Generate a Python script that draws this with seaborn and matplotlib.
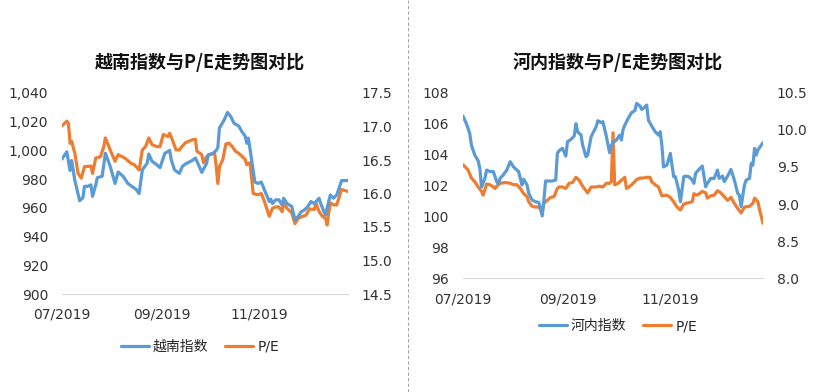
import pandas as pd
import seaborn as sns
import matplotlib.pyplot as plt
import matplotlib.dates as mdates
from matplotlib.ticker import StrMethodFormatter
from matplotlib.lines import Line2D

# ---- Vietnam index (left chart) ----
vn_idx_dates = ["07-01", "07-04", "07-06", "07-07", "07-09", "07-12", "07-14", "07-15", "07-17", "07-19",
                "07-20", "07-22", "07-23", "07-26", "07-28", "07-31", "08-03", "08-05", "08-08", "08-11",
                "08-14", "08-16", "08-18", "08-20", "08-23", "08-24", "08-26", "08-29", "08-31", "09-03",
                "09-06", "09-07", "09-09", "09-12", "09-14", "09-16", "09-20", "09-22", "09-24", "09-26",
                "09-29", "09-30", "10-03", "10-05", "10-06", "10-07", "10-10", "10-12", "10-14", "10-16",
                "10-19", "10-21", "10-23", "10-24", "10-25", "10-27", "10-29", "10-31", "11-02", "11-04",
                "11-07", "11-08", "11-09", "11-11", "11-13", "11-15", "11-16", "11-18", "11-21", "11-23",
                "11-25", "11-27", "11-29", "12-01", "12-03", "12-05", "12-08", "12-09", "12-11", "12-12",
                "12-13", "12-15", "12-17", "12-19", "12-22", "12-26"]
vn_idx = [994, 999, 986, 993, 979, 965, 967, 975, 975, 976,
          968, 976, 981, 982, 998, 989, 977, 985, 982, 977,
          974.5, 973, 970, 986.5, 991, 997.5, 992.5, 990, 988, 998,
          1000, 993.5, 986.5, 984, 989, 990.7, 993, 994.7, 990, 984.7,
          991, 997, 998, 1000, 1002, 1015.6, 1021.4, 1026.5, 1023.7, 1019,
          1017, 1013, 1010, 1005, 1008.6, 993.5, 978, 977, 978, 972.5,
          964.4, 966, 963, 965.6, 965.6, 962, 966.7, 963, 961, 951.6,
          954, 957.4, 958.6, 961, 964.4, 963, 966.7, 963, 957.4, 955,
          959.8, 969, 966.7, 969, 979, 979]

vn_pe_dates = ["07-01", "07-04", "07-05", "07-06", "07-07", "07-09", "07-11", "07-13", "07-15", "07-19",
               "07-20", "07-22", "07-25", "07-27", "07-28", "07-31", "08-03", "08-05", "08-09", "08-13",
               "08-15", "08-18", "08-20", "08-22", "08-24", "08-26", "08-29", "08-31", "09-02", "09-05",
               "09-06", "09-08", "09-10", "09-12", "09-14", "09-16", "09-20", "09-22", "09-23", "09-26",
               "09-27", "09-29", "10-01", "10-04", "10-05", "10-06", "10-07", "10-09", "10-11", "10-13",
               "10-15", "10-17", "10-19", "10-23", "10-24", "10-26", "10-28", "10-31", "11-02", "11-04",
               "11-07", "11-09", "11-11", "11-13", "11-15", "11-16", "11-18", "11-21", "11-23", "11-25",
               "11-28", "11-30", "12-02", "12-05", "12-06", "12-08", "12-10", "12-12", "12-13", "12-14",
               "12-15", "12-17", "12-19", "12-22", "12-26"]
vn_pe = [17.01, 17.08, 17.05, 16.75, 16.78, 16.6, 16.3, 16.23, 16.4, 16.41,
         16.3, 16.53, 16.55, 16.7, 16.83, 16.65, 16.48, 16.58, 16.53, 16.45,
         16.43, 16.35, 16.65, 16.7, 16.83, 16.73, 16.7, 16.7, 16.88, 16.85,
         16.9, 16.78, 16.65, 16.65, 16.71, 16.76, 16.8, 16.81, 16.63, 16.58,
         16.46, 16.55, 16.58, 16.6, 16.4, 16.15, 16.4, 16.5, 16.74, 16.75,
         16.7, 16.63, 16.6, 16.51, 16.43, 16.46, 16.0, 15.98, 16.0, 15.88,
         15.66, 15.78, 15.8, 15.8, 15.73, 15.86, 15.78, 15.71, 15.55, 15.63,
         15.66, 15.68, 15.77, 15.76, 15.86, 15.73, 15.66, 15.63, 15.53, 15.71,
         15.86, 15.83, 15.83, 16.06, 16.03]

# ---- Hanoi index (right chart) ----
hn_idx_dates = ["07-01", "07-03", "07-05", "07-06", "07-08", "07-10", "07-11", "07-12", "07-14", "07-15",
                "07-17", "07-19", "07-21", "07-22", "07-23", "07-25", "07-27", "07-29", "07-31", "08-02",
                "08-03", "08-05", "08-06", "08-08", "08-09", "08-11", "08-13", "08-15", "08-17", "08-18",
                "08-19", "08-21", "08-23", "08-25", "08-26", "08-27", "08-29", "08-31", "09-01", "09-03",
                "09-05", "09-06", "09-07", "09-09", "09-10", "09-12", "09-13", "09-15", "09-16", "09-18",
                "09-19", "09-21", "09-22", "09-24", "09-26", "09-27", "09-28", "09-30", "10-02", "10-03",
                "10-04", "10-05", "10-07", "10-09", "10-11", "10-12", "10-14", "10-15", "10-16", "10-18",
                "10-19", "10-21", "10-23", "10-25", "10-26", "10-27", "10-28", "10-30", "11-01", "11-03",
                "11-04", "11-06", "11-07", "11-09", "11-10", "11-12", "11-14", "11-15", "11-16", "11-18",
                "11-20", "11-22", "11-23", "11-25", "11-27", "11-29", "11-30", "12-02", "12-03", "12-05",
                "12-07", "12-09", "12-11", "12-12", "12-13", "12-15", "12-16", "12-18", "12-19", "12-20",
                "12-21", "12-22", "12-23", "12-26"]
hn_idx = [106.49, 106.0, 105.37, 104.6, 103.97, 103.6, 103.1, 101.9, 102.46, 103.0,
          102.9, 102.9, 102.25, 102.1, 102.46, 102.7, 103.0, 103.54, 103.2, 103.0,
          102.9, 102.03, 102.4, 102.03, 101.5, 101.06, 100.95, 100.9, 100.03, 101.06,
          102.29, 102.29, 102.29, 102.35, 104.08, 104.25, 104.4, 103.9, 104.83, 104.98,
          105.2, 106.0, 105.48, 105.26, 104.6, 103.86, 103.97, 105.15, 105.37, 105.8,
          106.19, 106.06, 106.13, 105.2, 104.12, 104.6, 104.77, 104.94, 105.26, 104.94,
          105.63, 105.9, 106.34, 106.71, 106.84, 107.31, 107.14, 106.92, 106.99, 107.2,
          106.23, 105.84, 105.48, 105.26, 105.48, 104.6, 103.2, 103.32, 104.08, 102.57,
          102.57, 101.7, 100.95, 102.57, 102.61, 102.57, 102.35, 102.14, 102.78, 103.04,
          103.26, 101.92, 102.14, 102.46, 102.46, 103.0, 102.46, 102.61, 102.25, 102.61,
          103.04, 102.35, 101.49, 101.38, 100.63, 102.03, 102.35, 102.46, 103.43, 103.32,
          104.4, 103.97, 104.3, 104.77]

hn_pe_dates = ["07-01", "07-04", "07-06", "07-08", "07-10", "07-12", "07-13", "07-15", "07-17", "07-19",
               "07-20", "07-21", "07-23", "07-26", "07-29", "07-31", "08-02", "08-04", "08-06", "08-08",
               "08-09", "08-11", "08-13", "08-15", "08-17", "08-18", "08-20", "08-22", "08-24", "08-26",
               "08-27", "08-29", "08-31", "09-02", "09-04", "09-06", "09-08", "09-10", "09-13", "09-15",
               "09-18", "09-20", "09-22", "09-24", "09-26", "09-27", "09-28", "09-29", "10-01", "10-03",
               "10-05", "10-06", "10-08", "10-10", "10-12", "10-14", "10-16", "10-18", "10-20", "10-21",
               "10-23", "10-25", "10-27", "10-30", "11-01", "11-03", "11-05", "11-07", "11-09", "11-12",
               "11-14", "11-15", "11-17", "11-20", "11-22", "11-23", "11-25", "11-27", "11-29", "12-01",
               "12-03", "12-05", "12-07", "12-09", "12-11", "12-13", "12-15", "12-18", "12-20", "12-21",
               "12-23", "12-24", "12-26"]
hn_pe = [9.53, 9.46, 9.35, 9.3, 9.23, 9.17, 9.12, 9.27, 9.26, 9.23,
         9.21, 9.24, 9.28, 9.29, 9.28, 9.26, 9.26, 9.21, 9.14, 9.1,
         9.03, 8.97, 8.96, 8.96, 8.9, 9.01, 9.05, 9.09, 9.1, 9.21,
         9.23, 9.23, 9.21, 9.28, 9.29, 9.36, 9.32, 9.24, 9.15, 9.23,
         9.23, 9.24, 9.23, 9.28, 9.28, 9.3, 9.96, 9.26, 9.28, 9.32,
         9.36, 9.21, 9.24, 9.28, 9.33, 9.35, 9.35, 9.36, 9.36, 9.3,
         9.26, 9.23, 9.11, 9.12, 9.09, 9.03, 8.96, 8.92, 9.0, 9.02,
         9.03, 9.14, 9.12, 9.17, 9.15, 9.08, 9.11, 9.12, 9.18, 9.15,
         9.1, 9.05, 9.09, 9.01, 8.94, 8.88, 8.96, 8.97, 9.01, 9.08,
         9.03, 8.92, 8.74]

BLUE = "#5B9BD5"
ORANGE = "#ED7D31"
TXT = "#333333"


def to_df(dates, values):
    return pd.DataFrame({"date": pd.to_datetime(["2019-" + d for d in dates]), "value": values})


sns.set_style("white")
plt.rcParams["font.family"] = ["DejaVu Sans", "Noto Sans CJK SC"]

fig = plt.figure(figsize=(8.15, 3.92), dpi=100)


def draw_panel(rect, idx_df, pe_df, ylim, yticks, fmt_l, ylim2, yticks2, title, idx_name, title_x, leg_y, ytitle):
    ax = fig.add_axes(rect)
    ax2 = ax.twinx()
    sns.lineplot(data=idx_df, x="date", y="value", ax=ax, color=BLUE, linewidth=2.3)
    sns.lineplot(data=pe_df, x="date", y="value", ax=ax2, color=ORANGE, linewidth=2.3)
    ax.set_zorder(ax2.get_zorder() + 1)
    ax.patch.set_visible(False)

    ax.set_xlim(pd.Timestamp("2019-07-01"), pd.Timestamp("2019-12-26"))
    ax.set_ylim(*ylim)
    ax.set_yticks(yticks)
    ax.yaxis.set_major_formatter(StrMethodFormatter(fmt_l))
    ax2.set_ylim(*ylim2)
    ax2.set_yticks(yticks2)
    ax2.yaxis.set_major_formatter(StrMethodFormatter("{x:.1f}"))
    ax.xaxis.set_major_locator(mdates.MonthLocator(bymonth=[7, 9, 11]))
    ax.xaxis.set_major_formatter(mdates.DateFormatter("%m/%Y"))

    for a in (ax, ax2):
        a.set_xlabel("")
        a.set_ylabel("")
        for s in ("top", "left", "right"):
            a.spines[s].set_visible(False)
        a.spines["bottom"].set_color("#D9D9D9")
        a.grid(False)
    ax2.spines["bottom"].set_visible(False)
    ax.tick_params(axis="y", length=0, pad=10, labelsize=10, labelcolor=TXT)
    ax2.tick_params(axis="y", length=0, pad=10, labelsize=10, labelcolor=TXT)
    ax.tick_params(axis="x", length=4, color="#D9D9D9", pad=6, labelsize=10, labelcolor=TXT)

    fig.text(title_x, ytitle, title, ha="center", va="center", fontsize=13, fontweight="bold",
             family=["Noto Sans CJK SC"], color="#111111")
    handles = [Line2D([], [], color=BLUE, lw=2.3), Line2D([], [], color=ORANGE, lw=2.3)]
    fig.legend(handles, [idx_name, "P/E"], loc="center", bbox_to_anchor=(title_x, leg_y), ncol=2,
               frameon=False, fontsize=10, handlelength=2.0, handletextpad=0.3, columnspacing=1.2)


draw_panel([62 / 815, 1 - 294 / 392, 286 / 815, 201 / 392], to_df(vn_idx_dates, vn_idx),
           to_df(vn_pe_dates, vn_pe), (900, 1040), list(range(900, 1041, 20)), "{x:,.0f}",
           (14.5, 17.5), [14.5, 15.0, 15.5, 16.0, 16.5, 17.0, 17.5],
           "越南指数与P/E走势图对比", "越南指数", 200 / 815, 1 - 347 / 392, 1 - 62 / 392)

draw_panel([463 / 815, 1 - 278.3 / 392, 300 / 815, 185.6 / 392], to_df(hn_idx_dates, hn_idx),
           to_df(hn_pe_dates, hn_pe), (96, 108), list(range(96, 109, 2)), "{x:.0f}",
           (8.0, 10.5), [8.0, 8.5, 9.0, 9.5, 10.0, 10.5],
           "河内指数与P/E走势图对比", "河内指数", 618 / 815, 1 - 326 / 392, 1 - 62 / 392)

# dashed divider between the two charts
fig.add_artist(Line2D([408 / 815, 408 / 815], [0, 1], transform=fig.transFigure,
                      color="#A6A6A6", lw=0.8, ls=(0, (3, 2))))

fig.savefig("out.png", dpi=100, facecolor="white")
